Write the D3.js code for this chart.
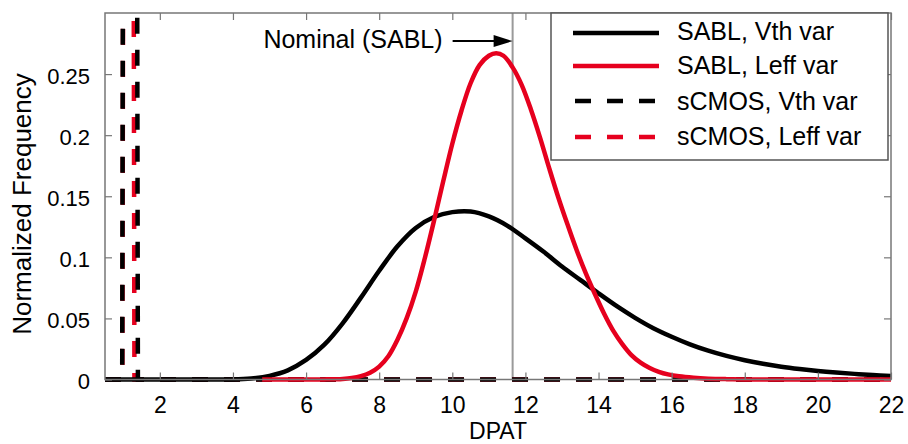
<!DOCTYPE html>
<html>
<head>
<meta charset="utf-8">
<script src="https://cdn.jsdelivr.net/npm/d3@7/dist/d3.min.js"></script>
<style>
  html, body { margin: 0; padding: 0; background: #fff; }
  svg { display: block; font-family: "Liberation Sans", Arial, Helvetica, sans-serif; }
</style>
</head>
<body>
<svg id="chart" width="908" height="444"></svg>
<script>
// DPAT distributions: SABL (solid) and sCMOS (dashed), under Vth and Leff variation
const sablVthX = [0.5, 2, 3.5, 4.0, 4.5, 5.0, 5.5, 6.0, 6.5, 7.0, 7.5, 8.0, 8.5, 9.0, 9.5, 10.0, 10.5, 11.0, 11.5, 12.0, 12.5, 13.0, 13.5, 14.0, 14.5, 15.0, 15.5, 16.0, 16.5, 17.0, 17.5, 18.0, 18.5, 19.0, 19.5, 20.0, 20.5, 21.0, 21.5, 22.0];
const sablVthY = [0, 0, 0, 0, 0.0008, 0.003, 0.0075, 0.016, 0.0285, 0.046, 0.067, 0.089, 0.109, 0.124, 0.133, 0.137, 0.1375, 0.1335, 0.126, 0.1155, 0.1045, 0.0925, 0.0815, 0.0705, 0.060, 0.0505, 0.042, 0.035, 0.0288, 0.0236, 0.0193, 0.0158, 0.0129, 0.0105, 0.0086, 0.0070, 0.0057, 0.0046, 0.0036, 0.0028];

const sablLeffX = [4.8, 6.0, 6.5, 7.0, 7.25, 7.5, 7.75, 8.0, 8.25, 8.5, 8.75, 9.0, 9.25, 9.5, 9.75, 10.0, 10.25, 10.5, 10.75, 11.0, 11.2, 11.4, 11.65, 11.9, 12.15, 12.4, 12.65, 12.9, 13.15, 13.4, 13.65, 13.9, 14.15, 14.4, 14.65, 14.9, 15.15, 15.4, 15.65, 15.9, 16.2, 16.6, 17.0, 17.5, 18.0, 19.0, 22.0];
const sablLeffY = [0, 0, 0.0001, 0.0005, 0.0012, 0.0027, 0.0055, 0.0105, 0.019, 0.0325, 0.050, 0.072, 0.0995, 0.130, 0.162, 0.193, 0.220, 0.2425, 0.2575, 0.265, 0.267, 0.265, 0.2555, 0.241, 0.221, 0.198, 0.173, 0.149, 0.127, 0.106, 0.087, 0.070, 0.054, 0.040, 0.029, 0.020, 0.0138, 0.0094, 0.0063, 0.0042, 0.0026, 0.0014, 0.0007, 0.0003, 0.0001, 0, 0];

// sCMOS spreads are very narrow; their peaks lie far above the plotted range
const scmosVthX = [0.5, 0.97, 1.0, 1.2, 1.37, 1.40, 22.0];
const scmosVthY = [0, 0, 0.5, 5.0, 0.5, 0, 0];

const scmosLeffX = [0.5, 0.975, 1.005, 1.14, 1.275, 1.305, 22.0];
const scmosLeffY = [0, 0, 0.5, 4.9985, 0.5, 0, 0];

const xTicks = [2, 4, 6, 8, 10, 12, 14, 16, 18, 20, 22];
const yTicks = [0, 0.05, 0.1, 0.15, 0.2, 0.25];
const yTickLabels = ["0", "0.05", "0.1", "0.15", "0.2", "0.25"];

const nominalDPAT = 11.65;
const legendLabels = ["SABL, Vth var", "SABL, Leff var", "sCMOS, Vth var", "sCMOS, Leff var"];

const RED = "#e6001e";
const BLACK = "#000";
const FRAME = "#777";
const DASH = 16;

const svg = d3.select("#chart");
const plotLeft = 105, plotRight = 891, plotTop = 13, plotBottom = 379.5;

const x = d3.scaleLinear().domain([0.5, 22]).range([plotLeft, plotRight]);
const y = d3.scaleLinear().domain([0, 0.3]).range([plotBottom, plotTop]);

// clip region for the data lines (leave room for stroke width at the baseline)
svg.append("defs").append("clipPath").attr("id", "plotClip")
  .append("rect").attr("x", plotLeft).attr("y", plotTop)
  .attr("width", plotRight - plotLeft).attr("height", plotBottom - plotTop + 4);

const zipPts = (xs, ys) => xs.map((v, i) => [v, ys[i]]);
const smoothLine = d3.line().x(d => x(d[0])).y(d => y(d[1])).curve(d3.curveCatmullRom.alpha(0.5));
const polyLine = d3.line().x(d => x(d[0])).y(d => y(d[1]));

// pixel length of a polyline up to (and including) point index k
function polyLength(pts, k) {
  let len = 0;
  for (let i = 1; i <= k; i++) {
    len += Math.hypot(x(pts[i][0]) - x(pts[i - 1][0]), y(pts[i][1]) - y(pts[i - 1][1]));
  }
  return len;
}

const plot = svg.append("g").attr("clip-path", "url(#plotClip)");

// nominal marker
plot.append("line")
  .attr("x1", x(nominalDPAT)).attr("x2", x(nominalDPAT))
  .attr("y1", plotTop).attr("y2", plotBottom)
  .attr("stroke", "#9a9a9a").attr("stroke-width", 2);

// sCMOS spikes (dashed); the red dash pattern is phased to sit under the black one along the baseline
const vthPts = zipPts(scmosVthX, scmosVthY);
const leffPts = zipPts(scmosLeffX, scmosLeffY);
const vthBase = polyLength(vthPts, 5) - x(scmosVthX[5]);
const leffBase = polyLength(leffPts, 5) - x(scmosLeffX[5]);
const period = 2 * DASH;
let leffOffset = (((vthBase - leffBase) % period) + period) % period;
if (leffOffset > DASH) leffOffset -= period;

plot.append("path").datum(leffPts)
  .attr("d", polyLine).attr("fill", "none")
  .attr("stroke", RED).attr("stroke-width", 4.5)
  .attr("stroke-dasharray", `${DASH},${DASH}`).attr("stroke-dashoffset", leffOffset);
plot.append("path").datum(vthPts)
  .attr("d", polyLine).attr("fill", "none")
  .attr("stroke", BLACK).attr("stroke-width", 4.5)
  .attr("stroke-dasharray", `${DASH},${DASH}`);

// SABL curves (solid)
plot.append("path").datum(zipPts(sablVthX, sablVthY))
  .attr("d", smoothLine).attr("fill", "none")
  .attr("stroke", BLACK).attr("stroke-width", 4.5).attr("stroke-linejoin", "round");
plot.append("path").datum(zipPts(sablLeffX, sablLeffY))
  .attr("d", smoothLine).attr("fill", "none")
  .attr("stroke", RED).attr("stroke-width", 4.5).attr("stroke-linejoin", "round");

// axes frame and ticks
const gx = svg.append("g").attr("transform", `translate(0,${plotBottom})`)
  .call(d3.axisBottom(x).tickValues(xTicks).tickSizeInner(-7).tickSizeOuter(0).tickFormat(d3.format("d")));
gx.selectAll("text").attr("y", 33).attr("dy", 0)
  .attr("font-size", 23).attr("fill", "#000")
  .attr("font-family", "Liberation Sans, Arial, sans-serif");

const gxTop = svg.append("g").attr("transform", `translate(0,${plotTop})`)
  .call(d3.axisTop(x).tickValues(xTicks).tickSizeInner(-7).tickSizeOuter(0).tickFormat(""));

const gy = svg.append("g").attr("transform", `translate(${plotLeft},0)`)
  .call(d3.axisLeft(y).tickValues(yTicks).tickSizeInner(-7).tickSizeOuter(0)
    .tickFormat((d, i) => yTickLabels[i]));
gy.selectAll("text").attr("x", -15).attr("dy", "0.42em")
  .attr("font-size", 22).attr("fill", "#000")
  .attr("font-family", "Liberation Sans, Arial, sans-serif");

const gyRight = svg.append("g").attr("transform", `translate(${plotRight},0)`)
  .call(d3.axisRight(y).tickValues(yTicks).tickSizeInner(-7).tickSizeOuter(0).tickFormat(""));

[gx, gxTop, gy, gyRight].forEach(g => {
  g.select(".domain").remove();
  g.selectAll(".tick line").attr("stroke", FRAME).attr("stroke-width", 1.2);
});

svg.append("rect")
  .attr("x", plotLeft).attr("y", plotTop)
  .attr("width", plotRight - plotLeft).attr("height", plotBottom - plotTop)
  .attr("fill", "none").attr("stroke", FRAME).attr("stroke-width", 1.5);

// axis titles
svg.append("text")
  .attr("x", (plotLeft + plotRight) / 2).attr("y", 439)
  .attr("text-anchor", "middle").attr("font-size", 23).text("DPAT");

svg.append("text")
  .attr("transform", `translate(31,204) rotate(-90)`)
  .attr("text-anchor", "middle").attr("font-size", 26).text("Normalized Frequency");

// annotation for the nominal value
const tipX = x(nominalDPAT), tipY = y(0.277);
svg.append("line")
  .attr("x1", tipX - 60).attr("x2", tipX - 16)
  .attr("y1", tipY).attr("y2", tipY)
  .attr("stroke", "#000").attr("stroke-width", 2);
svg.append("path")
  .attr("d", `M${tipX},${tipY} L${tipX - 19},${tipY - 6} L${tipX - 19},${tipY + 6} Z`)
  .attr("fill", "#000");
svg.append("text")
  .attr("x", tipX - 70).attr("y", tipY + 7)
  .attr("text-anchor", "end").attr("font-size", 25).text("Nominal (SABL)");

// legend
const legend = svg.append("g");
legend.append("rect")
  .attr("x", 551).attr("y", plotTop).attr("width", 888 - 551).attr("height", 160 - plotTop)
  .attr("fill", "#fff").attr("stroke", "#555").attr("stroke-width", 1.5);

const legendStyles = [
  { color: BLACK, dash: null },
  { color: RED, dash: null },
  { color: BLACK, dash: `${DASH},${DASH}` },
  { color: RED, dash: `${DASH},${DASH}` }
];
const rowY = [33, 66, 101, 137];
const rowBaseline = [40, 74, 110, 145];
legendLabels.forEach((label, i) => {
  const s = legendStyles[i];
  legend.append("line")
    .attr("x1", s.dash ? 575 : 573).attr("x2", s.dash ? 655 : 659)
    .attr("y1", rowY[i]).attr("y2", rowY[i])
    .attr("stroke", s.color).attr("stroke-width", 4.5)
    .attr("stroke-dasharray", s.dash);
  legend.append("text")
    .attr("x", 677).attr("y", rowBaseline[i])
    .attr("font-size", 25).text(label);
});
</script>
</body>
</html>
